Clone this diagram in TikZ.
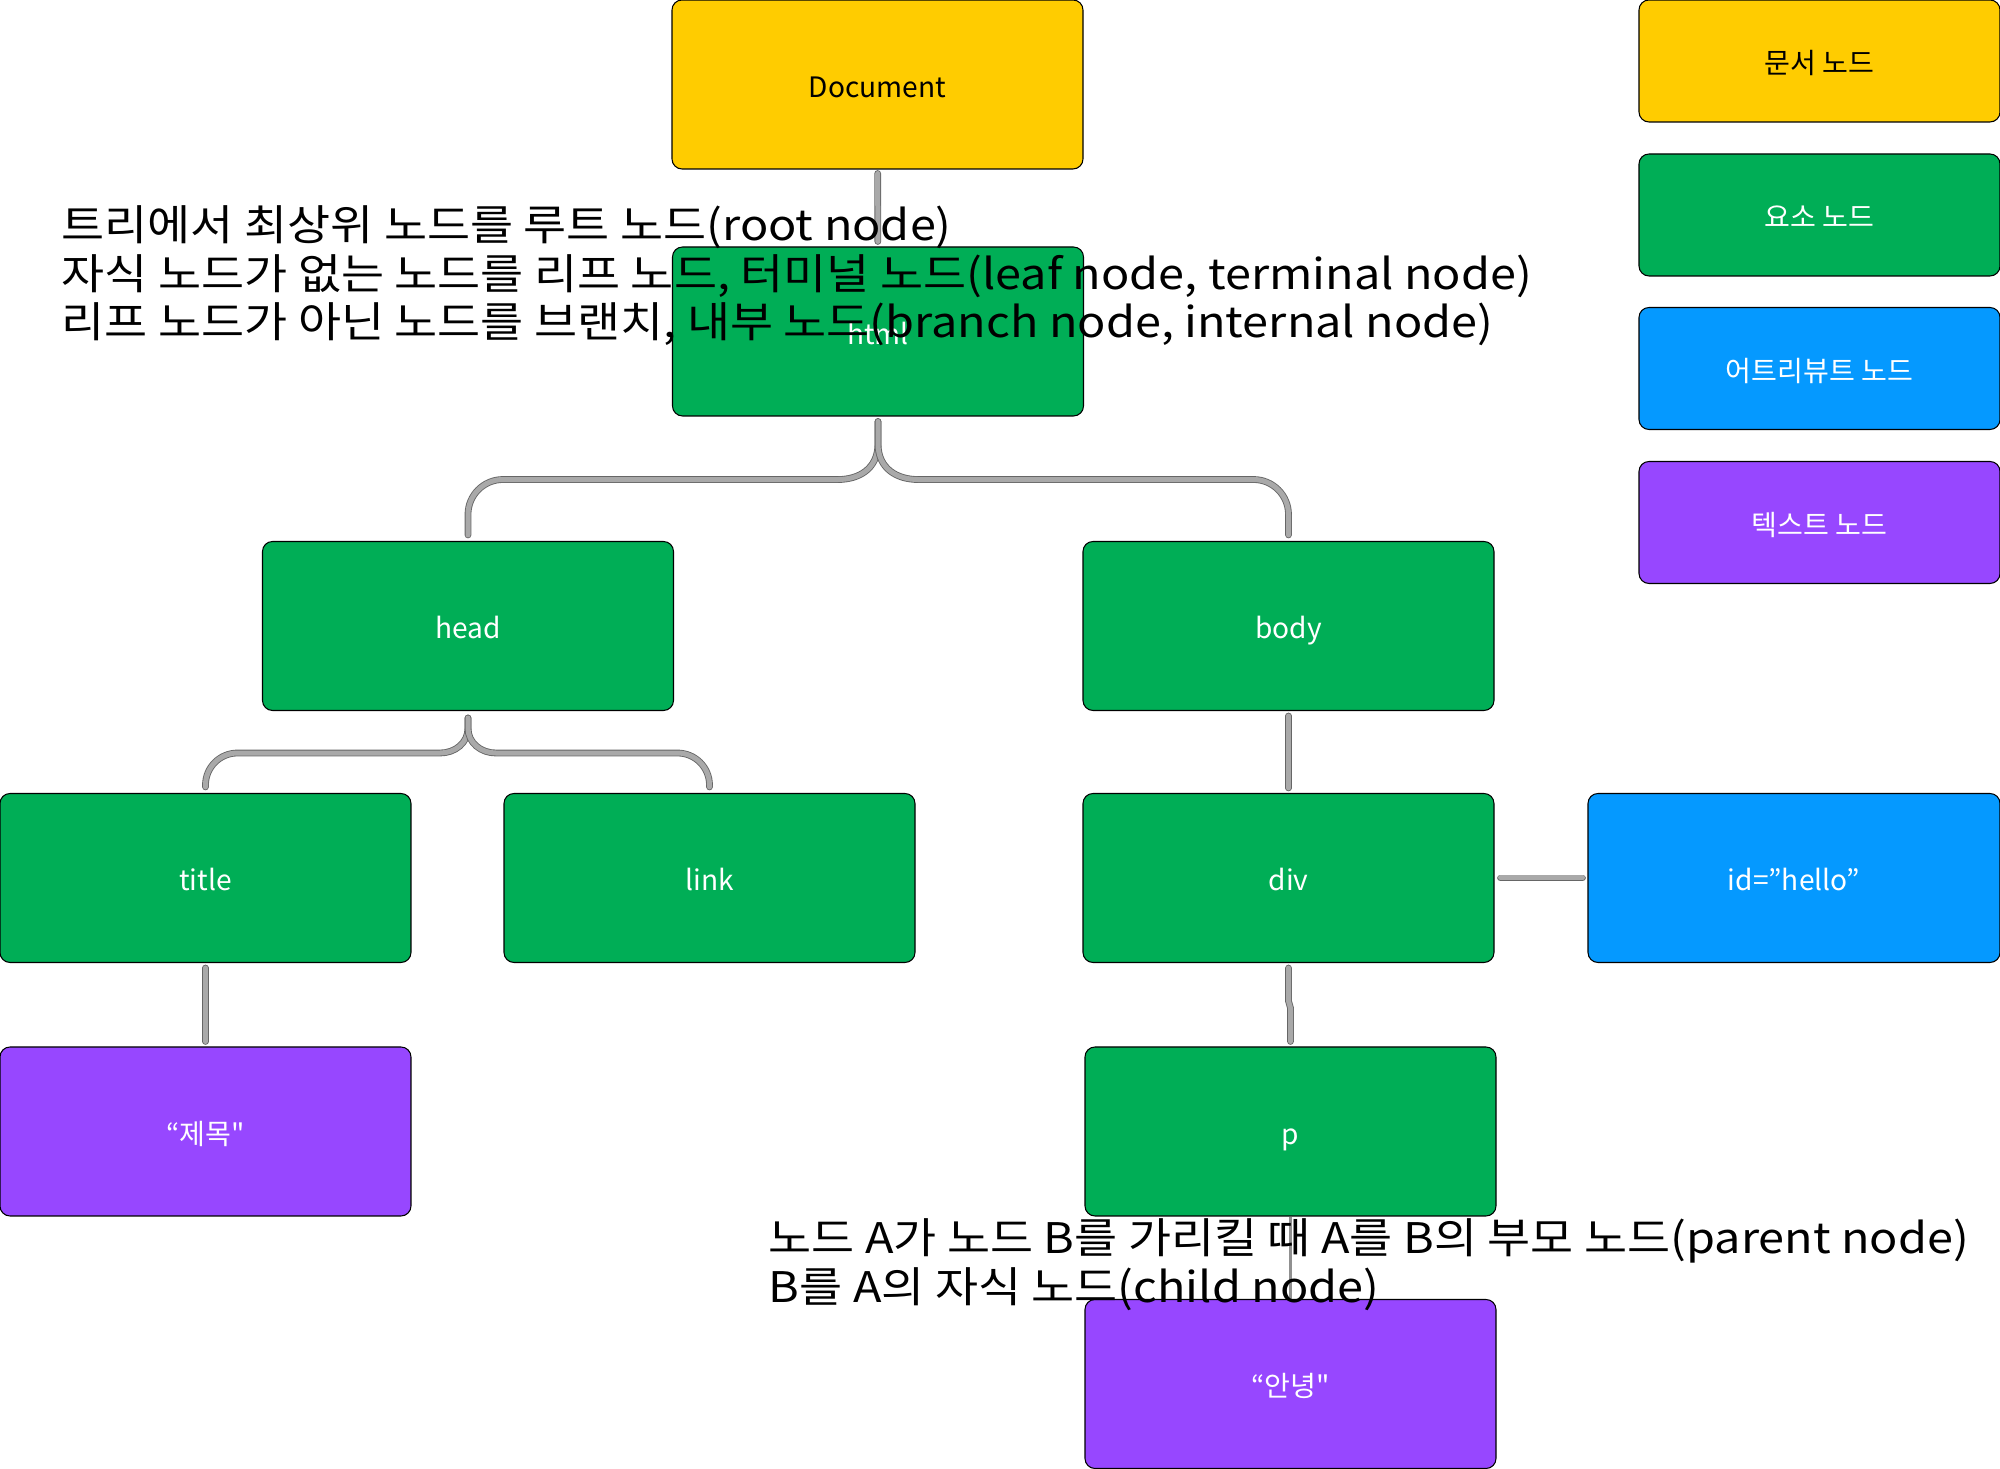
\documentclass[tikz,border=0pt]{standalone}
\usepackage{fontspec}
\usepackage{xcolor}
\newfontfamily\krfont{Noto Sans CJK KR}
\newfontfamily\notefont{Noto Sans CJK KR}[FakeStretch=1.11]
\definecolor{docYellow}{HTML}{FFCC00}
\definecolor{elemGreen}{HTML}{00AE56}
\definecolor{attrBlue}{HTML}{0599FF}
\definecolor{textPurple}{HTML}{9747FF}
\definecolor{wireGray}{HTML}{A9A9A9}
\tikzset{
  box/.style={draw=black, line width=0.3pt, rounded corners=1mm, minimum width=41.1mm,
    minimum height=16.9mm, inner sep=0pt, text height=0.93em, text depth=0.2em, text=white,
    font=\krfont\fontsize{8}{9.6}\selectfont},
  legendbox/.style={box, minimum width=36.1mm, minimum height=12.2mm},
  wire/.style={draw=black!60, line width=0.25pt, double=wireGray, double distance=0.5mm, line cap=round},
  thinwire/.style={draw=wireGray!85!black, line width=0.25mm},
  note/.style={anchor=north west, inner sep=0pt, align=left, font=\notefont\fontsize{12}{13.8}\selectfont}
}

\begin{document}
\begin{tikzpicture}[x=0.1mm, y=-0.1mm]
        \useasboundingbox (0,0) rectangle (2000,1469);
        % tree
        \node [box, fill=docYellow, text=black] (doc) at (877.5,84.5) {Document};
        \node [box, fill=elemGreen] (html) at (878,331.5) {html};
        \node [box, fill=elemGreen] (head) at (468,626) {head};
        \node [box, fill=elemGreen] (body) at (1288.5,626) {body};
        \node [box, fill=elemGreen] (title) at (205.5,878) {title};
        \node [box, fill=elemGreen] (link) at (709.5,878) {link};
        \node [box, fill=elemGreen] (div) at (1288.5,878) {div};
        \node [box, fill=attrBlue, minimum width=41.2mm] (id) at (1794,878) {id=”hello”};
        \node [box, fill=textPurple] (jemok) at (205.5,1131.5) {“제목"};
        \node [box, fill=elemGreen] (p) at (1290.5,1131.5) {p};
        \node [box, fill=textPurple] (annyeong) at (1290.5,1384) {“안녕"};
        % legend
        \node [legendbox, fill=docYellow, text=black] (legdoc) at (1819.5,61) {문서 노드};
        \node [legendbox, fill=elemGreen] (legelem) at (1819.5,215) {요소 노드};
        \node [legendbox, fill=attrBlue] (legattr) at (1819.5,368.5) {어트리뷰트 노드};
        \node [legendbox, fill=textPurple] (legtext) at (1819.5,522.5) {텍스트 노드};
        % connectors
        \draw [wire, shorten <=0.4mm, shorten >=0.5mm] (doc) -- (html);
        \draw [wire] ([yshift=-0.5mm]html.south) -- ++(0,22) .. controls +(0,26) and +(20,0) .. ++(-40,36)
          [rounded corners=3.5mm] -| ([yshift=0.6mm]head.north);
        \draw [wire] ([yshift=-0.5mm]html.south) -- ++(0,22) .. controls +(0,26) and +(-20,0) .. ++(40,36)
          [rounded corners=3.5mm] -| ([yshift=0.6mm]body.north);
        \draw [wire] ([yshift=-0.7mm]head.south) -- ++(0,10) .. controls +(0,15) and +(15,0) .. ++(-28,25)
          [rounded corners=3.2mm] -| ([yshift=0.6mm]title.north);
        \draw [wire] ([yshift=-0.7mm]head.south) -- ++(0,10) .. controls +(0,15) and +(-15,0) .. ++(28,25)
          [rounded corners=3.2mm] -| ([yshift=0.6mm]link.north);
        \draw [wire, shorten <=0.5mm, shorten >=0.5mm] (title) -- (jemok);
        \draw [wire, shorten <=0.5mm, shorten >=0.5mm] (body) -- (div);
        \draw [wire, shorten <=0.6mm, shorten >=0.5mm] (div) -- (id);
        \draw [wire] ([yshift=-0.5mm]div.south) -- ++(0,33) -- ++(2,7) -- ([yshift=0.5mm]p.north);
        \draw [thinwire] (p) -- (annyeong);
        % notes
        \node [note] (rootnote) at (61,205) {트리에서 최상위 노드를 루트 노드(root node)\\
          자식 노드가 없는 노드를 리프 노드, 터미널 노드(leaf node, terminal node)\\
          리프 노드가 아닌 노드를 브랜치, 내부 노드(branch node, internal node)};
        \node [note] (parentnote) at (768,1218) {노드 A가 노드 B를 가리킬 때 A를 B의 부모 노드(parent node)\\
          B를 A의 자식 노드(child node)};
\end{tikzpicture}
\end{document}
